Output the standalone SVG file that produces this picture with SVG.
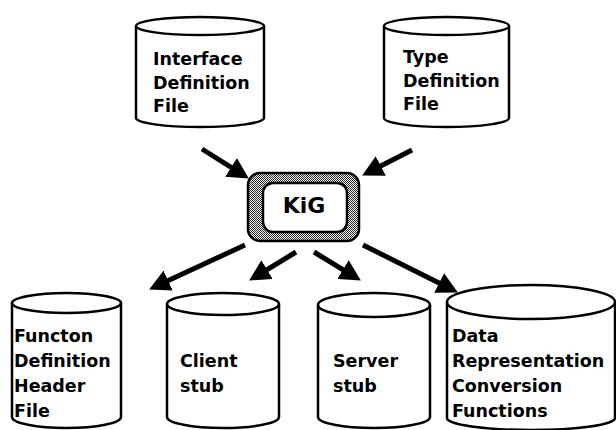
<svg xmlns="http://www.w3.org/2000/svg" width="616" height="430" viewBox="0 0 616 430">
<style>
.cyl{fill:#fff;stroke:#000;stroke-width:2.5;stroke-linejoin:round}
.lbl{font-family:"DejaVu Sans","Liberation Sans",sans-serif;font-weight:bold;font-size:17.5px;fill:#000}
.arr{stroke:#000;stroke-width:5;fill:none;marker-end:url(#ah)}
</style>
<defs>
<pattern id="stip" width="2" height="2" patternUnits="userSpaceOnUse">
<rect width="2" height="2" fill="#fff"/>
<rect width="1" height="1" fill="#222"/>
<rect x="1" y="1" width="1" height="1" fill="#222"/>
</pattern>
<marker id="ah" markerUnits="userSpaceOnUse" viewBox="0 0 21 22" markerWidth="21" markerHeight="22" refX="10" refY="11" orient="auto">
<path d="M0,0 L21,11 L0,22 z" fill="#000"/>
</marker>
</defs>
<rect width="616" height="430" fill="#fff"/>

<g id="connectors">
<line class="arr" x1="202" y1="149" x2="239.5" y2="172.7"/>
<line class="arr" x1="412" y1="150" x2="371.9" y2="170.5"/>
<line class="arr" x1="245" y1="245" x2="159.1" y2="284.8"/>
<line class="arr" x1="296" y1="252" x2="258.5" y2="274.8"/>
<line class="arr" x1="314" y1="252" x2="351.5" y2="274.8"/>
<line class="arr" x1="363" y1="245" x2="448.1" y2="287.5"/>
</g>

<g id="interface">
<path class="cyl" d="M136,26 L136,118 A64,9 0 0 0 264,118 L264,26"/>
<ellipse class="cyl" cx="200" cy="26" rx="64" ry="9"/>
<text class="lbl" x="153" y="65">Interface</text>
<text class="lbl" x="153" y="88.5">Definition</text>
<text class="lbl" x="153" y="112">File</text>
</g>

<g id="type">
<path class="cyl" d="M384,26 L384,118 A62.5,9 0 0 0 509,118 L509,26"/>
<ellipse class="cyl" cx="446.5" cy="26" rx="62.5" ry="9"/>
<text class="lbl" x="403" y="63">Type</text>
<text class="lbl" x="403" y="87">Definition</text>
<text class="lbl" x="403" y="110">File</text>
</g>

<g id="kig">
<rect x="248" y="173" width="111" height="68" rx="12" fill="url(#stip)" stroke="#000" stroke-width="2.5"/>
<rect x="263" y="183" width="84" height="49" rx="10" fill="#fff" stroke="#000" stroke-width="2.5"/>
<text x="304" y="213" text-anchor="middle" font-family="DejaVu Sans, Liberation Sans, sans-serif" font-weight="bold" font-size="22">KiG</text>
</g>

<g id="function">
<path class="cyl" d="M12,303 L12,417 A54.5,11 0 0 0 121,417 L121,303"/>
<ellipse class="cyl" cx="66.5" cy="303" rx="54.5" ry="10"/>
<text class="lbl" x="14" y="342">Functon</text>
<text class="lbl" x="14" y="367">Definition</text>
<text class="lbl" x="14" y="392">Header</text>
<text class="lbl" x="14" y="417">File</text>
</g>

<g id="client">
<path class="cyl" d="M167,304 L167,417 A56,11 0 0 0 279,417 L279,304"/>
<ellipse class="cyl" cx="223" cy="304" rx="56" ry="11"/>
<text class="lbl" x="180" y="367">Client</text>
<text class="lbl" x="180" y="392">stub</text>
</g>

<g id="server">
<path class="cyl" d="M318,305 L318,417 A56,11 0 0 0 430,417 L430,305"/>
<ellipse class="cyl" cx="374" cy="305" rx="56" ry="12"/>
<text class="lbl" x="333" y="367">Server</text>
<text class="lbl" x="333" y="392">stub</text>
</g>

<g id="data">
<path class="cyl" d="M447,302 L447,418 A84,12 0 0 0 615,418 L615,302"/>
<ellipse class="cyl" cx="531" cy="302" rx="84" ry="17"/>
<text class="lbl" x="452" y="342">Data</text>
<text class="lbl" x="452" y="367">Representation</text>
<text class="lbl" x="452" y="392">Conversion</text>
<text class="lbl" x="452" y="417">Functions</text>
</g>
</svg>
